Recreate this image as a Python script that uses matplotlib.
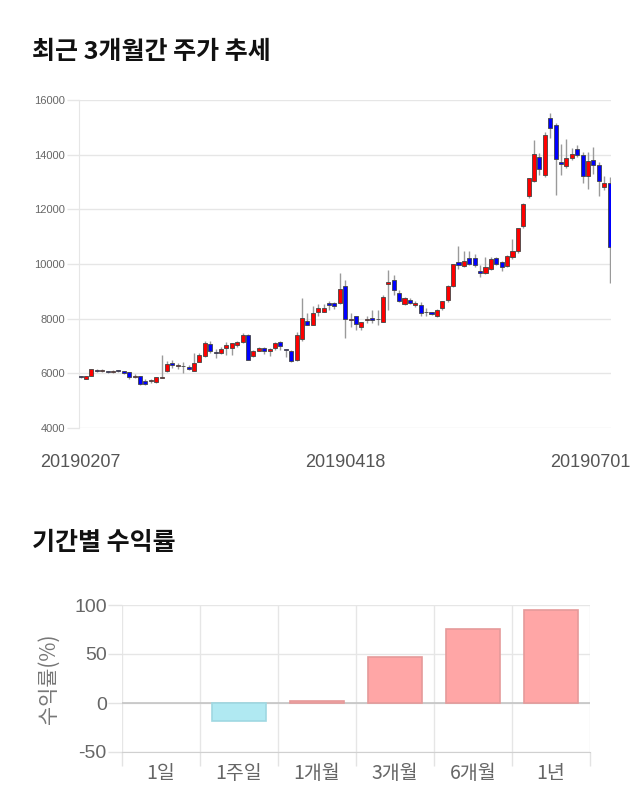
import matplotlib
matplotlib.use("Agg")
import matplotlib.pyplot as plt
import matplotlib.transforms as mtransforms
import numpy as np

# ---------------- data ----------------
dates_labels = ["20190207", "20190418", "20190701"]
date_tick_idx = [0, 49, 98]

opens = [5870, 5800, 5920, 6130, 6090, 6070, 6060, 6110, 6080, 6040,
         5870, 5900, 5720, 5720, 5670, 5830, 6070, 6370, 6265, 6250,
         6230, 6100, 6430, 6620, 7080, 6790, 6740, 6920, 6920, 7020,
         7130, 7410, 6640, 6830, 6920, 6800, 6920, 7140, 6870, 6830,
         6470, 7260, 7930, 7780, 8230, 8260, 8570, 8570, 8570, 9200,
         7960, 8080, 7680, 7950, 8010, 7970, 7890, 9270, 9420, 8940,
         8540, 8690, 8500, 8510, 8230, 8230, 8080, 8390, 8670, 9200,
         10060, 9910, 10220, 10220, 9740, 9670, 9810, 10220, 10090, 9930,
         10250, 10460, 11400, 12500, 13020, 13910, 13270, 15330, 15080, 13730,
         13570, 13880, 14220, 13970, 13230, 13810, 13630, 12800, 12960]
highs = [5900, 5920, 6170, 6160, 6160, 6100, 6120, 6130, 6100, 6060,
         5980, 5920, 5780, 5800, 5880, 6680, 6450, 6470, 6370, 6430,
         6290, 6740, 6740, 7180, 7180, 6880, 6950, 7130, 7120, 7180,
         7470, 7430, 6860, 6960, 6980, 6920, 7150, 7180, 6880, 6850,
         7500, 8750, 8210, 8450, 8520, 8520, 8640, 8600, 9670, 9400,
         8200, 8100, 7880, 8090, 8300, 8300, 8850, 9790, 9600, 9050,
         8780, 8760, 8640, 8620, 8400, 8260, 8340, 8650, 9220, 10000,
         10670, 10460, 10460, 10350, 9950, 10250, 10250, 10250, 10120, 10320,
         10910, 11330, 12230, 13160, 14520, 14060, 14840, 15510, 15170, 14400,
         14570, 14260, 14340, 14100, 14100, 14290, 13720, 13220, 13200]
lows = [5840, 5790, 5900, 6060, 6040, 6030, 6000, 6060, 5990, 5800,
        5840, 5560, 5560, 5640, 5650, 5820, 6050, 6210, 6160, 6030,
        6110, 6080, 6400, 6600, 6740, 6550, 6700, 6680, 6680, 6980,
        7100, 6490, 6600, 6800, 6700, 6630, 6860, 6860, 6580, 6410,
        6440, 7200, 7760, 7760, 8100, 8230, 8320, 8340, 8550, 7290,
        7710, 7590, 7600, 7850, 7830, 7760, 7880, 8320, 8850, 8600,
        8500, 8550, 8430, 8080, 8100, 8140, 8060, 8300, 8620, 9150,
        9810, 9880, 9980, 9900, 9520, 9640, 9790, 9950, 9730, 9900,
        10200, 10420, 11330, 12400, 12990, 13260, 13200, 14600, 12530, 13250,
        13500, 13800, 13900, 12980, 12730, 13300, 12470, 12710, 9300]
closes = [5860, 5900, 6150, 6080, 6100, 6060, 6070, 6070, 6010, 5880,
          5920, 5620, 5610, 5730, 5860, 5880, 6350, 6290, 6310, 6250,
          6170, 6370, 6680, 7100, 6830, 6730, 6890, 7020, 7100, 7130,
          7410, 6490, 6830, 6920, 6800, 6900, 7110, 7010, 6860, 6460,
          7410, 8020, 7780, 8200, 8390, 8390, 8510, 8450, 9090, 7980,
          8000, 7810, 7870, 7960, 7960, 7980, 8810, 9340, 9060, 8630,
          8770, 8590, 8560, 8200, 8230, 8180, 8320, 8630, 9200, 10000,
          9970, 10120, 10010, 9970, 9670, 9890, 10180, 10010, 9890, 10300,
          10480, 11310, 12200, 13130, 14030, 13470, 14730, 14960, 13840, 13670,
          13880, 14030, 13970, 13230, 13780, 13620, 13020, 12960, 10620]

periods = ["1일", "1주일", "1개월", "3개월", "6개월", "1년"]
returns = [0.0, -18.5, 1.7, 47.2, 76.0, 94.5]

# ---------------- figure ----------------
KR = ["Noto Sans CJK KR", "DejaVu Sans"]
NUM = ["Liberation Sans", "DejaVu Sans"]

fig = plt.figure(figsize=(6.4, 8.1), dpi=100)
fig.patch.set_facecolor("white")

fig.text(32 / 640, 1 - 52 / 810, "최근 3개월간 주가 추세", family=KR,
         fontsize=18, fontweight="bold", ha="left", va="center", color="#111111")
fig.text(32 / 640, 1 - 543 / 810, "기간별 수익률", family=KR,
         fontsize=18, fontweight="bold", ha="left", va="center", color="#111111")

# ---- candlestick chart ----
ax = fig.add_axes([79 / 640, 1 - 428 / 810, (611 - 79) / 640, (428 - 100) / 810])
n = len(opens)
idx = np.arange(n)
o = np.array(opens, float)
h = np.array(highs, float)
l = np.array(lows, float)
c = np.array(closes, float)

up = c > o
down = c < o
colors = np.where(up, "#ff0000", np.where(down, "#0000ff", "#8b1a1a"))

ax.vlines(idx, l, h, color="#9a9a9a", linewidth=1.0, zorder=2)
bottoms = np.minimum(o, c)
heights = np.maximum(np.abs(c - o), 25)
ax.bar(idx, heights, bottom=bottoms, width=0.75, color=colors,
       edgecolor="#444444", linewidth=0.6, zorder=3)

ax.set_xlim(-0.3, 98.25)
ax.set_ylim(4000, 16000)
yt = [4000, 6000, 8000, 10000, 12000, 14000, 16000]
ax.set_yticks(yt)
ax.set_yticklabels([str(v) for v in yt], family=NUM, fontsize=8, color="#666666")
ax.tick_params(axis="y", length=9, color="#e6e6e6", width=1, pad=1)
ax.set_xticks(date_tick_idx)
ax.set_xticklabels(dates_labels, family=NUM, fontsize=13, color="#555555")
ax.tick_params(axis="x", length=0, pad=19)
ax.grid(axis="y", color="#e6e6e6", linewidth=1)
for s in ["top", "right", "bottom"]:
    ax.spines[s].set_visible(False)
ax.spines["left"].set_color("#e6e6e6")
ax.set_axisbelow(True)
lbls = ax.get_xticklabels()
off = mtransforms.ScaledTranslation(-19 / 100, 0, fig.dpi_scale_trans)
lbls[-1].set_transform(lbls[-1].get_transform() + off)

# ---- returns bar chart ----
ax2 = fig.add_axes([122 / 640, 1 - 752 / 810, (590 - 122) / 640, (752 - 605) / 810])
xpos = np.arange(len(periods))
bar_cols = ["#ffa6a6" if v >= 0 else "#b0e9f2" for v in returns]
edge_cols = [("#e59a9a" if v > 0 else "#9fd8e2") if v != 0 else "none" for v in returns]
ax2.bar(xpos, returns, width=0.7, color=bar_cols, edgecolor=edge_cols,
        linewidth=1.2, zorder=3)
ax2.set_xlim(-0.5, len(periods) - 0.5)
ax2.set_ylim(-50, 100)
ax2.set_yticks([-50, 0, 50, 100])
ax2.set_yticklabels(["-50", "0", "50", "100"], family=NUM, fontsize=14, color="#666666")
ax2.tick_params(axis="y", length=10, color="#e3e3e3", width=1, pad=1)
ax2.set_xticks(xpos)
ax2.set_xticklabels(periods, family=KR, fontsize=14, color="#666666")
ax2.set_xticks(np.arange(-0.5, len(periods), 1.0), minor=True)
ax2.tick_params(axis="x", which="major", length=0, pad=8)
ax2.tick_params(axis="x", which="minor", length=10, color="#e3e3e3", width=1)
ax2.grid(axis="y", color="#e6e6e6", linewidth=1, zorder=0)
ax2.grid(axis="x", which="minor", color="#e6e6e6", linewidth=1, zorder=0)
ax2.axhline(0, color="#c4c4c4", linewidth=1.2, zorder=2)
for s in ["top", "right", "left"]:
    ax2.spines[s].set_visible(False)
ax2.spines["bottom"].set_color("#d0d0d0")
ax2.set_axisbelow(True)
ax2.set_ylabel("수익률(%)", family=KR, fontsize=15, color="#777777", labelpad=10)

fig.savefig("out.png", dpi=100, facecolor="white")
